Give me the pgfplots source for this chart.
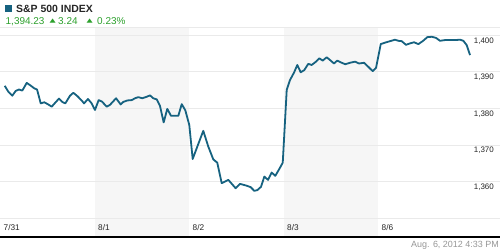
\documentclass[border=0pt]{standalone}
\usepackage{fontspec}
\setmainfont{Liberation Sans}
\newfontfamily\dejavu{DejaVu Sans}
\usepackage{pgfplots}
\pgfplotsset{compat=1.18}
\definecolor{linec}{RGB}{22,98,128}
\definecolor{upg}{RGB}{44,160,44}
\definecolor{gridc}{RGB}{234,234,234}
\definecolor{bandc}{RGB}{246,246,246}
\definecolor{stampc}{RGB}{150,150,150}
\begin{document}
\begin{tikzpicture}[x=1bp,y=1bp]
\begin{axis}[
  at={(0,0)}, anchor=south west,
  scale only axis, width=500bp, height=208bp,
  xmin=0, xmax=5.291, ymin=1345.16, ymax=1402,
  axis line style={draw=none},
  set layers,
  clip=false,
  ytick={1350,1360,1370,1380,1390,1400},
  yticklabels={,{1,360},{1,370},{1,380},{1,390},{1,400}},
  yticklabel pos=right,
  yticklabel style={anchor=north east, inner sep=0pt, xshift=-6bp, yshift=-2bp, font=\fontsize{8}{8}\selectfont, text=black!85},
  xtick={0,1,2,3,4},
  xticklabels={7/31,8/1,8/2,8/3,8/6},
  xticklabel style={anchor=base west, inner sep=0pt, xshift=3.5bp, yshift=5.5bp, font=\fontsize{8.3}{8.3}\selectfont, text=black!85},
  major tick length=0pt,
  ymajorgrids, grid style={gridc, line width=1bp},
]
\begin{pgfonlayer}{axis background}
\fill[bandc] (axis cs:1,1345.16) rectangle (axis cs:2,1402);
\fill[bandc] (axis cs:3,1345.16) rectangle (axis cs:4,1402);
\end{pgfonlayer}
\draw[gridc, line width=1bp] (rel axis cs:0,1) -- (rel axis cs:1,1);
\addplot[linec, line width=1.8bp, line join=round, mark=none] coordinates {
(0.050,1386.2) (0.088,1384.6) (0.130,1383.5) (0.166,1384.8) (0.201,1385.2)
(0.236,1384.9) (0.283,1387.0) (0.328,1386.2) (0.363,1385.5) (0.392,1385.2)
(0.431,1381.4) (0.469,1381.7) (0.511,1381.1) (0.547,1380.5) (0.585,1381.6)
(0.624,1382.7) (0.659,1381.8) (0.691,1381.4) (0.741,1383.5) (0.776,1384.3)
(0.818,1383.4) (0.868,1382.1) (0.889,1381.4) (0.931,1382.6) (0.970,1381.4)
(1.005,1379.6) (1.044,1382.3) (1.079,1381.9) (1.129,1380.5) (1.164,1381.0)
(1.228,1382.8) (1.277,1381.1) (1.305,1381.8) (1.347,1382.2) (1.394,1382.3)
(1.429,1382.8) (1.463,1383.1) (1.506,1382.8) (1.552,1383.2) (1.587,1383.6)
(1.622,1382.8) (1.658,1382.5) (1.693,1380.7) (1.732,1376.2) (1.770,1379.9)
(1.810,1378.0) (1.887,1378.0) (1.923,1381.2) (1.961,1379.5) (2.003,1375.5)
(2.039,1366.2) (2.088,1369.6) (2.151,1373.9) (2.204,1369.6) (2.257,1366.1)
(2.299,1365.2) (2.346,1359.6) (2.416,1360.5) (2.494,1358.2) (2.540,1359.4)
(2.611,1358.9) (2.653,1358.5) (2.691,1357.5) (2.723,1357.7) (2.762,1358.6)
(2.797,1361.4) (2.836,1360.5) (2.875,1362.5) (2.913,1361.6) (2.956,1363.5)
(2.992,1365.2) (3.034,1385.1) (3.069,1387.8) (3.111,1389.8) (3.146,1391.9)
(3.182,1389.9) (3.220,1390.5) (3.262,1392.2) (3.298,1391.9) (3.344,1392.8)
(3.379,1393.7) (3.415,1393.1) (3.457,1394.0) (3.499,1393.1) (3.534,1392.3)
(3.569,1393.1) (3.616,1392.5) (3.654,1392.1) (3.704,1392.5) (3.757,1392.8)
(3.799,1392.3) (3.852,1392.5) (3.897,1391.4) (3.944,1390.2) (3.979,1391.1)
(4.029,1397.6) (4.074,1398.0) (4.127,1398.4) (4.180,1398.8) (4.215,1398.5)
(4.251,1398.4) (4.296,1397.4) (4.339,1397.8) (4.381,1398.1) (4.427,1397.6)
(4.473,1398.4) (4.522,1399.5) (4.568,1399.6) (4.614,1399.3) (4.656,1398.5)
(4.709,1398.7) (4.762,1398.7) (4.815,1398.7) (4.868,1398.8) (4.903,1398.5)
(4.939,1397.3) (4.974,1394.6)
};
\draw[black, line width=2bp] ([yshift=-0.8bp]rel axis cs:0,0) -- ([yshift=-0.8bp]rel axis cs:1,0);
\end{axis}
\fill[linec] (5,224) rectangle (12.3,231.2);
\node[anchor=base west, inner sep=0pt, font=\bfseries\fontsize{10.5}{12}\selectfont, text=black!85] at (16,223.8) {S\&P 500 INDEX};
\node[anchor=base west, inner sep=0pt, font=\fontsize{10}{12}\selectfont, text=upg] at (5.5,212) {1,394.23};
\node[anchor=base west, inner sep=0pt, text=upg, yscale=0.7] at (49.5,213.3) {\dejavu\fontsize{8}{8}\selectfont ▲};
\node[anchor=base west, inner sep=0pt, font=\fontsize{10}{12}\selectfont, text=upg] at (58,212) {3.24};
\node[anchor=base west, inner sep=0pt, text=upg, yscale=0.7] at (86.5,213.3) {\dejavu\fontsize{8}{8}\selectfont ▲};
\node[anchor=base west, inner sep=0pt, font=\fontsize{10}{12}\selectfont, text=upg] at (97,212) {0.23\%};
\node[anchor=base east, inner sep=0pt, font=\fontsize{9}{10}\selectfont, text=stampc] at (499,-11.7) {Aug. 6, 2012 4:33 PM};
\pgfresetboundingbox
\path[use as bounding box] (0,-14) rectangle (500,236);
\end{tikzpicture}
\end{document}
